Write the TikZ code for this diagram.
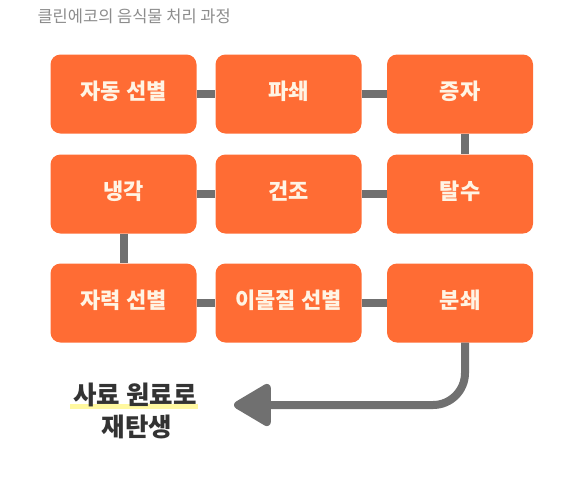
\documentclass[tikz,border=0pt]{standalone}
\usepackage{fontspec}
\newfontfamily\kr{Noto Sans CJK KR}
\usetikzlibrary{arrows.meta}
\definecolor{boxorange}{RGB}{255,108,52}
\definecolor{boxtext}{RGB}{255,244,228}
\definecolor{linkgray}{RGB}{112,112,112}
\definecolor{titlegray}{RGB}{140,140,140}
\definecolor{darktext}{RGB}{51,51,51}
\definecolor{hlyellow}{RGB}{255,248,160}
\tikzset{
  stepbox/.style={fill=boxorange,rounded corners=10pt,minimum width=146pt,minimum height=79pt,
    inner sep=0pt,text height=18pt,text depth=7pt,text=boxtext,
    font=\kr\bfseries\fontsize{22}{26}\selectfont},
  link/.style={draw=linkgray,line width=8pt},
}
\begin{document}
\begin{tikzpicture}[x=1pt,y=-1pt]
  \useasboundingbox (0,0) rectangle (585,483);
  \node[anchor=west,text=titlegray,font=\kr\fontsize{16.5}{18}\selectfont] (title) at (34,16) {클린에코의 음식물 처리 과정};

  \node[stepbox] (sort) at (123.5,94) {자동 선별};
  \node[stepbox] (crush) at (288.5,94) {파쇄};
  \node[stepbox] (steam) at (460,94) {증자};
  \node[stepbox] (cool) at (123.5,194) {냉각};
  \node[stepbox] (dry) at (288.5,194) {건조};
  \node[stepbox] (dewater) at (460,194) {탈수};
  \node[stepbox] (magnet) at (123.5,303) {자력 선별};
  \node[stepbox] (foreign) at (288.5,303) {이물질 선별};
  \node[stepbox] (grind) at (460,303) {분쇄};

  \draw[link] (sort.east) -- (crush.west);
  \draw[link] (crush.east) -- (steam.west);
  \draw[link] ([xshift=5pt]steam.south) -- ([xshift=5pt]dewater.north);
  \draw[link] (dewater.west) -- (dry.east);
  \draw[link] (dry.west) -- (cool.east);
  \draw[link] (cool.south) -- (magnet.north);
  \draw[link] (magnet.east) -- (foreign.west);
  \draw[link] (foreign.east) -- (grind.west);

  \coordinate (tip) at (234,405);
  \draw[link,rounded corners=32pt,-{Triangle[round,length=41pt,width=46pt]}]
    ([xshift=5pt]grind.south) |- (tip);

  % result text
  \fill[hlyellow] (70,404) rectangle (198,409);
  \node[text=darktext,font=\kr\bfseries\fontsize{25.5}{28}\selectfont] (feed) at (135,395) {사료 원료로};
  \node[text=darktext,font=\kr\bfseries\fontsize{25.5}{28}\selectfont] (reborn) at (137,427) {재탄생};
\end{tikzpicture}
\end{document}
